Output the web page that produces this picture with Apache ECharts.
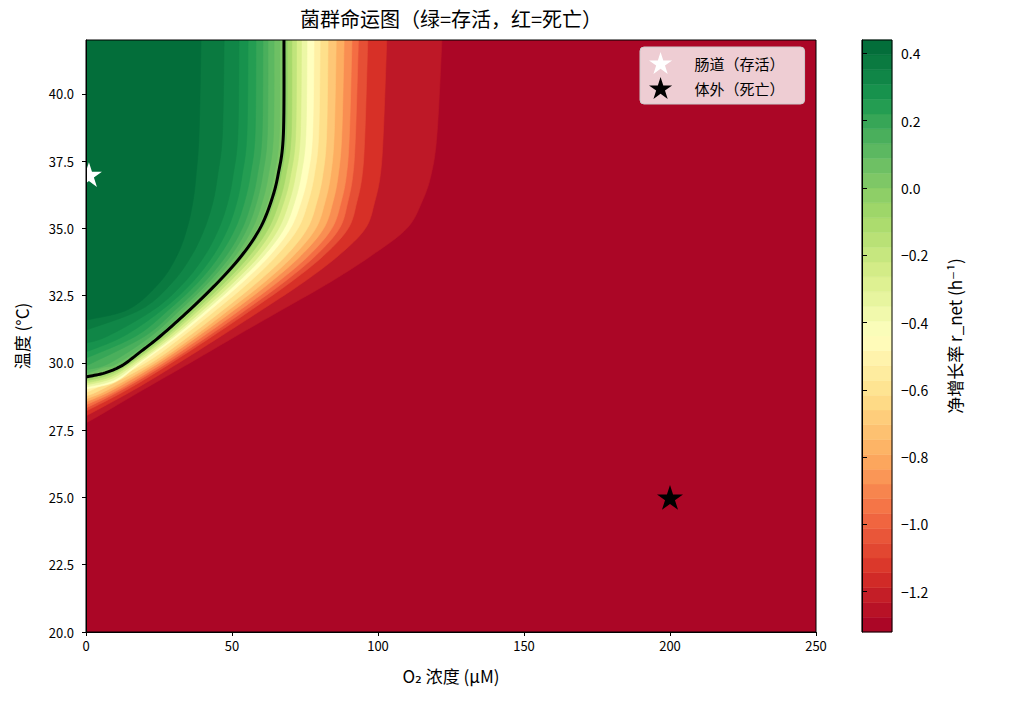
<!DOCTYPE html>
<html><head><meta charset="utf-8">
<script src="https://cdn.jsdelivr.net/npm/echarts@6/dist/echarts.min.js"></script>
<style>html,body{margin:0;padding:0;background:#fff}#c{width:1017px;height:704px}</style>
</head><body><div id="c"></div>
<script>
// ---- axis ticks ----
const o2Ticks = [0, 50, 100, 150, 200, 250];
const tempTicks = [20, 22.5, 25, 27.5, 30, 32.5, 35, 37.5, 40];
const cbarTicks = [-1.2, -1.0, -0.8, -0.6, -0.4, -0.2, 0.0, 0.2, 0.4];
// colorbar level boundaries (contourf levels)
const cbarLevels = [-1.32, -1.276, -1.232, -1.188, -1.144, -1.1, -1.056, -1.012, -0.968, -0.924, -0.88,
  -0.836, -0.792, -0.748, -0.704, -0.66, -0.616, -0.572, -0.528, -0.484, -0.44, -0.396, -0.352, -0.308,
  -0.264, -0.22, -0.176, -0.132, -0.088, -0.044, 0, 0.044, 0.088, 0.132, 0.176, 0.22, 0.264, 0.308,
  0.352, 0.396, 0.44];

// ---- contour lines of r_net: [O2 (µM), T (°C)] ----
const contourBase  = [[250, 42], [250, 20], [0, 20]];  // r >= -1.32 : whole domain
const contourM1276 = [[121.9,42],[120.2,38.5],[118.2,37],[115.1,36],[109.9,35],[97.9,34],[83.6,33],[67.5,32],[51.4,31],[35.6,30],[19.5,29],[3.8,28],[0,27.77]];
const contourM1188 = [[103.0,42],[101.8,38.5],[100.8,37],[98.9,36],[95.7,35],[86.6,34],[74.5,33],[60.6,32],[46.3,31],[31.7,30],[16.4,29],[0,28.03]];
const contourM1100 = [[96.5,42],[95.5,38.5],[94.6,37],[92.8,36],[89.8,35],[81.5,34],[70.1,33],[57.0,32],[43.4,31],[29.2,30],[14.0,29],[0,28.21]];
const contourM1012 = [[93.3,42],[92.3,38.5],[91.4,37],[89.7,36],[86.8,35],[78.8,34],[67.8,33],[55.1,32],[41.9,31],[27.9,30],[12.3,29],[0,28.32]];
const contourM0924 = [[91.1,42],[90.2,38.5],[89.2,37],[87.4,36],[84.2,35],[76.4,34],[65.6,33],[53.2,32],[40.2,31],[26.5,30],[11.0,29],[0,28.44]];
const contourM0836 = [[88.4,42],[87.6,38.5],[86.4,37],[84.6,36],[81.4,35],[73.7,34],[63.2,33],[51.2,32],[38.5,31],[25.0,30],[9.2,29],[0,28.55]];
const contourM0748 = [[85.7,42],[85.0,38.5],[83.8,37],[81.9,36],[78.7,35],[71.2,34],[61.1,33],[49.3,32],[37.1,31],[23.7,30],[7.5,29],[0,28.66]];
const contourM0660 = [[82.9,42],[82.4,38.5],[81.1,37],[79.1,36],[75.8,35],[68.6,34],[58.7,33],[47.3,32],[35.3,31],[22.2,30],[5.1,29],[0,28.77]];
const contourM0572 = [[80.2,42],[79.7,38.5],[78.2,37],[76.1,36],[72.6,35],[65.4,34],[55.9,33],[44.9,32],[33.2,31],[20.3,30],[2.1,29],[0,28.92]];
const contourM0484 = [[78.1,42],[77.6,38.5],[76.0,37],[73.7,36],[70.0,35],[63.0,34],[53.6,33],[42.9,32],[31.6,31],[18.8,30],[10.0,29.30],[0,29.03]];
const contourM0396 = [[75.7,42],[75.3,38.5],[73.7,37],[71.5,36],[67.9,35],[61.1,34],[52.0,33],[41.6,32],[30.5,31],[18.0,30],[9.5,29.36],[0,29.10]];
const contourM0308 = [[73.8,42],[73.4,38.5],[71.8,37],[69.6,36],[66.0,35],[59.5,34],[50.6,33],[40.4,32],[29.6,31],[17.1,30],[9.0,29.43],[0,29.18]];
const contourM0220 = [[72.1,42],[71.8,38.5],[70.1,37],[67.8,36],[64.1,35],[57.7,34],[49.0,33],[39.0,32],[28.4,31],[16.0,30],[8.5,29.49],[0,29.25]];
const contourM0132 = [[70.5,42],[70.3,38.5],[68.5,37],[66.2,36],[62.5,35],[56.1,34],[47.6,33],[37.8,32],[27.4,31],[15.2,30],[8.0,29.56],[0,29.33]];
const contourM0044 = [[68.9,42],[68.7,38.5],[66.8,37],[64.4,36],[60.6,35],[54.3,34],[46.0,33],[36.4,32],[26.2,31],[14.1,30],[7.5,29.63],[0,29.40]];
const contourZero  = [[67.8,42],[67.6,38.5],[65.8,37],[63.4,36],[59.6,35],[53.4,34],[45.2,33],[35.8,32],[25.5,31],[18.5,30.4],[12.3,29.9],[6.5,29.63],[0,29.48]];
const contourP0044 = [[66.4,42],[66.2,38.5],[64.4,37],[62.2,36],[58.5,35],[52.5,34],[44.4,33],[35.0,32],[25.0,31],[13.0,30],[7.0,29.77],[0,29.51]];
const contourP0088 = [[64.4,42],[64.2,38.5],[62.5,37],[60.4,36],[57.0,35],[51.3,34],[43.4,33],[34.0,32],[24.3,31],[11.0,30],[5.5,29.82],[0,29.59]];
const contourP0132 = [[62.3,42],[62.1,38.5],[60.5,37],[58.5,36],[55.2,35],[49.7,34],[42.0,33],[32.5,32],[22.3,31],[8.2,30],[0,29.74]];
const contourP0176 = [[60.6,42],[60.3,38.5],[58.7,37],[56.7,36],[53.5,35],[48.1,34],[40.5,33],[30.9,32],[20.2,31],[2.1,30],[0,29.92]];
const contourP0220 = [[58.2,42],[57.9,38.5],[56.3,37],[54.3,36],[51.1,35],[45.8,34],[38.4,33],[28.6,32],[17.1,31],[0,30.18]];
const contourP0264 = [[55.5,42],[55.1,38.5],[53.5,37],[51.7,36],[48.6,35],[43.6,34],[36.4,33],[26.4,32],[13.0,31],[0,30.41]];
const contourP0308 = [[52.4,42],[52.0,38.5],[50.4,37],[48.6,36],[45.5,35],[40.7,34],[33.7,33],[23.5,32],[7.5,31],[0,30.74]];
const contourP0352 = [[47.3,42],[46.7,38.5],[45.1,37],[43.5,36],[40.6,35],[36.2,34],[29.6,33],[19.0,32],[0,31.22]];
const contourP0396 = [[39.4,42],[38.7,38.5],[37.7,37],[36.6,36],[34.6,35],[31.2,34],[25.3,33],[14.7,32],[0,31.59]];
// lower level bound of each filled region (ascending), and the top of the range
const contourLevels = [-1.32, -1.276, -1.188, -1.1, -1.012, -0.924, -0.836, -0.748, -0.66, -0.572, -0.484,
  -0.396, -0.308, -0.22, -0.132, -0.044, 0, 0.044, 0.088, 0.132, 0.176, 0.22, 0.264, 0.308, 0.352, 0.396];
const rangeTop = 0.44;

// ---- marked points ----
const gutPoint = [[1, 37]];
const outsidePoint = [[200, 25]];

const contourSets = [contourBase, contourM1276, contourM1188, contourM1100, contourM1012, contourM0924,
  contourM0836, contourM0748, contourM0660, contourM0572, contourM0484, contourM0396, contourM0308,
  contourM0220, contourM0132, contourM0044, contourZero, contourP0044, contourP0088, contourP0132,
  contourP0176, contourP0220, contourP0264, contourP0308, contourP0352, contourP0396];

// RdYlGn colormap
const anchors = ['#a50026','#d73027','#f46d43','#fdae61','#fee08b','#ffffbf','#d9ef8b','#a6d96a','#66bd63','#1a9850','#006837'];
function hex2rgb(h){return [parseInt(h.substr(1,2),16),parseInt(h.substr(3,2),16),parseInt(h.substr(5,2),16)];}
function rdylgn(t){
  t = Math.max(0, Math.min(1, t));
  const p = t * 10, i = Math.min(9, Math.floor(p)), f = p - i;
  const a = hex2rgb(anchors[i]), b = hex2rgb(anchors[i+1]);
  return 'rgb(' + a.map((v,k)=>Math.round(v + (b[k]-v)*f)).join(',') + ')';
}
const vmin = cbarLevels[0], vmax = cbarLevels[cbarLevels.length-1];
const norm = v => (v - vmin) / (vmax - vmin);
const fillColors = contourLevels.map((L, i) => {
  const hi = i + 1 < contourLevels.length ? contourLevels[i+1] : rangeTop;
  return rdylgn(norm((L + hi) / 2));
});

// smooth (Catmull-Rom) rendering of a pixel polyline
function smoothPixels(P, steps) {
  if (P.length < 3) return P.slice();
  const out = [P[0]];
  for (let i = 0; i < P.length - 1; i++) {
    const p0 = P[i - 1] || P[i], p1 = P[i], p2 = P[i + 1], p3 = P[i + 2] || P[i + 1];
    const c1 = [p1[0] + (p2[0] - p0[0]) / 6, p1[1] + (p2[1] - p0[1]) / 6];
    const c2 = [p2[0] - (p3[0] - p1[0]) / 6, p2[1] - (p3[1] - p1[1]) / 6];
    for (let s = 1; s <= steps; s++) {
      const t = s / steps, u = 1 - t;
      out.push([
        u*u*u*p1[0] + 3*u*u*t*c1[0] + 3*u*t*t*c2[0] + t*t*t*p2[0],
        u*u*u*p1[1] + 3*u*u*t*c1[1] + 3*u*t*t*c2[1] + t*t*t*p2[1]
      ]);
    }
  }
  return out;
}

const FONT = '"Noto Sans CJK SC", "DejaVu Sans", sans-serif';
const STAR = 'path://M0,-10 L2.245,-3.09 L9.511,-3.09 L3.633,1.18 L5.878,8.09 L0,3.82 L-5.878,8.09 L-3.633,1.18 L-9.511,-3.09 L-2.245,-3.09 Z';

const chart = echarts.init(document.getElementById('c'), null, {renderer: 'svg'});
chart.setOption({
  animation: false,
  backgroundColor: '#ffffff',
  title: {
    text: '菌群命运图（绿=存活，红=死亡）', left: 451, top: 8, textAlign: 'center', padding: 0,
    textStyle: {fontFamily: FONT, fontSize: 20, fontWeight: 'normal', color: '#000'}
  },
  legend: {
    data: ['肠道（存活）', '体外（死亡）'],
    orient: 'vertical', left: 640, top: 47,
    padding: [5, 20, 5, 9], itemGap: 3, itemWidth: 24, itemHeight: 22,
    backgroundColor: 'rgba(255,255,255,0.8)', borderColor: '#cccccc', borderWidth: 1, borderRadius: 4,
    textStyle: {fontFamily: FONT, fontSize: 15, color: '#000', padding: [0, 0, 0, 17]},
    z: 10
  },
  grid: [
    {left: 86, top: 40, width: 730, height: 592, show: true, borderColor: '#000', borderWidth: 1, backgroundColor: 'transparent', z: 5},
    {left: 862, top: 40, width: 30, height: 592, show: true, borderColor: '#000', borderWidth: 1, backgroundColor: 'transparent', z: 5}
  ],
  xAxis: [
    {gridIndex: 0, type: 'value', min: 0, max: 250, interval: 50, z: 6,
     name: 'O₂ 浓度 (μM)', nameLocation: 'middle', nameGap: 35,
     nameTextStyle: {fontFamily: FONT, fontSize: 17, color: '#000'},
     axisLine: {show: true, lineStyle: {color: '#000', width: 1}},
     axisTick: {show: true, length: 4, lineStyle: {color: '#000'}},
     axisLabel: {fontFamily: FONT, fontSize: 13, color: '#000', margin: 7},
     splitLine: {show: false}},
    {gridIndex: 1, type: 'value', min: 0, max: 1, show: false}
  ],
  yAxis: [
    {gridIndex: 0, type: 'value', min: 20, max: 42, z: 6,
     name: '温度 (°C)', nameLocation: 'middle', nameGap: 56, nameRotate: 90,
     nameTextStyle: {fontFamily: FONT, fontSize: 17, color: '#000'},
     axisLine: {show: true, lineStyle: {color: '#000', width: 1}},
     axisTick: {show: true, length: 4, lineStyle: {color: '#000'}, customValues: tempTicks},
     axisLabel: {fontFamily: FONT, fontSize: 13, color: '#000', margin: 12, customValues: tempTicks,
                 formatter: v => Number(v).toFixed(1)},
     splitLine: {show: false}},
    {gridIndex: 1, type: 'value', min: vmin, max: vmax, position: 'right', z: 6,
     name: '净增长率 r_net (h⁻¹)', nameLocation: 'middle', nameGap: 54, nameRotate: 90,
     nameTextStyle: {fontFamily: FONT, fontSize: 17, color: '#000'},
     axisLine: {show: true, lineStyle: {color: '#000', width: 1}},
     axisTick: {show: true, length: 5, lineStyle: {color: '#000'}, customValues: cbarTicks},
     axisLabel: {fontFamily: FONT, fontSize: 14, color: '#000', margin: 9, customValues: cbarTicks,
                 formatter: v => Number(v).toFixed(1).replace('-', '−')},
     splitLine: {show: false}}
  ],
  series: [
    {
      type: 'custom', name: 'r_net', xAxisIndex: 0, yAxisIndex: 0, z: 1, clip: true, silent: true,
      data: contourSets.map((c, i) => [c[0][0], c[0][1], i]),
      encode: {x: 0, y: 1},
      renderItem: function (params, api) {
        const idx = api.value(2);
        const px = contourSets[idx].map(p => api.coord(p));
        const pts = idx === 0 ? px : smoothPixels(px, 10);
        pts.push(api.coord([0, 42]));
        return {type: 'polygon', shape: {points: pts}, style: {fill: fillColors[idx], stroke: fillColors[idx], lineWidth: 0.6}};
      }
    },
    {
      type: 'custom', name: 'r=0', xAxisIndex: 0, yAxisIndex: 0, z: 3, clip: true, silent: true,
      data: [[contourZero[0][0], contourZero[0][1]]],
      encode: {x: 0, y: 1},
      renderItem: function (params, api) {
        const pts = smoothPixels(contourZero.map(p => api.coord(p)), 12);
        return {type: 'polyline', shape: {points: pts}, style: {stroke: '#000', lineWidth: 3, fill: null, lineJoin: 'round'}};
      }
    },
    {
      type: 'scatter', name: '肠道（存活）', xAxisIndex: 0, yAxisIndex: 0, z: 4, data: gutPoint,
      symbol: STAR, symbolSize: 26, symbolKeepAspect: true, itemStyle: {color: '#ffffff', opacity: 1}
    },
    {
      type: 'scatter', name: '体外（死亡）', xAxisIndex: 0, yAxisIndex: 0, z: 4, data: outsidePoint,
      symbol: STAR, symbolSize: 26, symbolKeepAspect: true, itemStyle: {color: '#000000', opacity: 1}
    },
    {
      type: 'custom', name: 'colorbar', xAxisIndex: 1, yAxisIndex: 1, z: 1, silent: true,
      data: cbarLevels.slice(0, -1).map((lo, i) => [0, lo, cbarLevels[i + 1]]),
      encode: {x: 0, y: 1},
      renderItem: function (params, api) {
        const lo = api.value(1), hi = api.value(2);
        const p0 = api.coord([0, hi]), p1 = api.coord([1, lo]);
        const col = rdylgn(norm((lo + hi) / 2));
        return {type: 'rect', shape: {x: p0[0], y: p0[1], width: p1[0] - p0[0], height: p1[1] - p0[1]},
                style: {fill: col, stroke: col, lineWidth: 0.5}};
      }
    }
  ]
});
</script></body></html>
